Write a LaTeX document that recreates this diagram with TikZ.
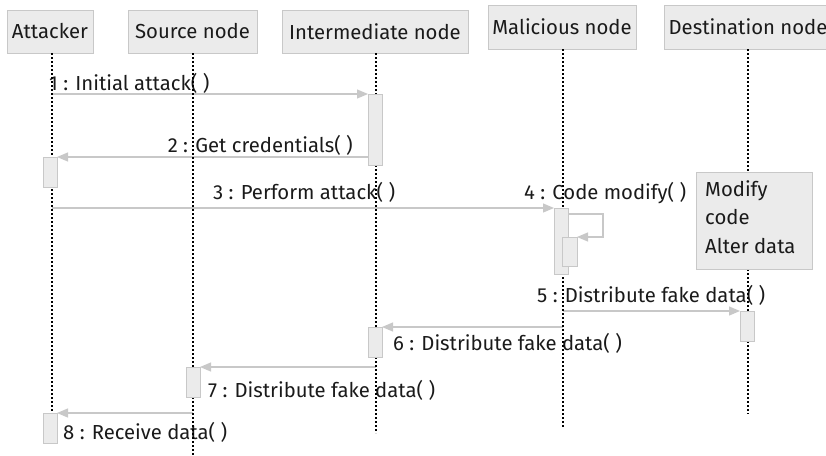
\documentclass[tikz,border=0pt]{standalone}
\usepackage{fontspec}
\setmainfont{Fira Sans}
\usetikzlibrary{arrows.meta}
\definecolor{boxfill}{HTML}{EBEBEB}
\definecolor{boxline}{HTML}{C8C8C8}
\definecolor{msgline}{HTML}{C8C8C8}
\definecolor{txt}{HTML}{1A1A1A}
\tikzset{
  head/.style={draw=boxline, fill=boxfill, line width=1pt, minimum height=43pt, inner sep=0pt, text=txt, font=\fontsize{20.3}{22}\selectfont},
  lifeline/.style={black, line width=2pt, dash pattern=on 2pt off 2pt},
  act/.style={draw=boxline, fill=boxfill, line width=1pt},
  msg/.style={draw=msgline, line width=1.2pt, -{Triangle[length=11pt,width=9pt,fill=msgline]}},
  lbl/.style={text=txt, font=\fontsize{20.3}{22}\selectfont, inner sep=0pt},
}
\begin{document}
\begin{tikzpicture}[x=1pt,y=-1pt]
\useasboundingbox (0,0) rectangle (826,455);
\clip (0,0) rectangle (826,455);
% headers
\node[head, minimum width=86pt] (att) at (50,31.5) {Attacker};
\node[head, minimum width=129pt] (src) at (192.5,31.5) {Source node};
\node[head, minimum width=186pt] (int) at (375,31.5) {Intermediate node};
\node[head, minimum width=148pt, minimum height=44pt] (mal) at (562,27) {Malicious node};
\node[head, minimum width=168pt, minimum height=44pt] (dst) at (748,27) {Destination node};
% lifeline ends
\coordinate (attE) at (52,443);
\coordinate (srcE) at (193,455);
\coordinate (intE) at (376,433);
\coordinate (malE) at (563,427);
\coordinate (dstE) at (748,414);
\coordinate (attS) at (52,53);
\coordinate (srcS) at (193,53);
\coordinate (intS) at (376,53);
\coordinate (malS) at (563,49);
\coordinate (dstS) at (748,49);
% activation boxes (corners)
\coordinate (i1a) at (368,94);  \coordinate (i1b) at (382,165);
\coordinate (a1a) at (43,157);  \coordinate (a1b) at (57,187);
\coordinate (m1a) at (554,208); \coordinate (m1b) at (568,274);
\coordinate (m2a) at (562,237); \coordinate (m2b) at (577,266);
\coordinate (d1a) at (740,311); \coordinate (d1b) at (754,341);
\coordinate (i2a) at (368,327); \coordinate (i2b) at (382,357);
\coordinate (s1a) at (186,367); \coordinate (s1b) at (200,397);
\coordinate (a2a) at (43,413);  \coordinate (a2b) at (57,443);
% messages
\draw[msg] (attS |- i1a) -- (i1a);
\node[lbl, anchor=west] (l1) at (49,83) {1 : Initial attack( )};
\draw[msg] (i1a |- 0,157) -- (a1b |- a1a);
\node[lbl, anchor=east] (l2) at (353,145) {2 : Get credentials( )};
\draw[msg] (attS |- m1a) -- (m1a);
\node[lbl, anchor=west] (l3) at (213,192) {3 : Perform attack( )};
\draw[msg] (m1b |- 0,214) -- (603,214) -- (603,237) -- (m2b |- m2a);
\node[lbl, anchor=west] (l4) at (524,193) {4 : Code modify( )};
\draw[msg] (malS |- d1a) -- (d1a);
\node[lbl, anchor=west] (l5) at (537,295) {5 : Distribute fake data( )};
\draw[msg] (malS |- i2a) -- (i2b |- i2a);
\node[lbl, anchor=west] (l6) at (393,343) {6 : Distribute fake data( )};
\draw[msg] (intS |- s1a) -- (s1b |- s1a);
\node[lbl, anchor=west] (l7) at (208,390) {7 : Distribute fake data( )};
\draw[msg] (srcS |- a2a) -- (a2b |- a2a);
\node[lbl, anchor=west] (l8) at (63,432) {8 : Receive data( )};
% lifelines
\draw[lifeline] (attS) -- (attE);
\draw[lifeline] (srcS) -- (srcE);
\draw[lifeline] (intS) -- (intE);
\draw[lifeline] (malS) -- (malE);
\draw[lifeline] (dstS) -- (dstE);
% activations
\draw[act] (i1a) rectangle (i1b);
\draw[act] (a1a) rectangle (a1b);
\draw[act] (m1a) rectangle (m1b);
\draw[act] (m2a) rectangle (m2b);
\draw[act] (d1a) rectangle (d1b);
\draw[act] (i2a) rectangle (i2b);
\draw[act] (s1a) rectangle (s1b);
\draw[act] (a2a) rectangle (a2b);
% note
\node[act, minimum width=116pt, minimum height=97pt, anchor=north west, inner sep=0pt] (note) at (696,172) {};
\node[lbl, anchor=north west, align=left, font=\fontsize{20.3}{28.5}\selectfont] (notetxt) at (705,180) {Modify\\code\\Alter data};
\end{tikzpicture}
\end{document}
